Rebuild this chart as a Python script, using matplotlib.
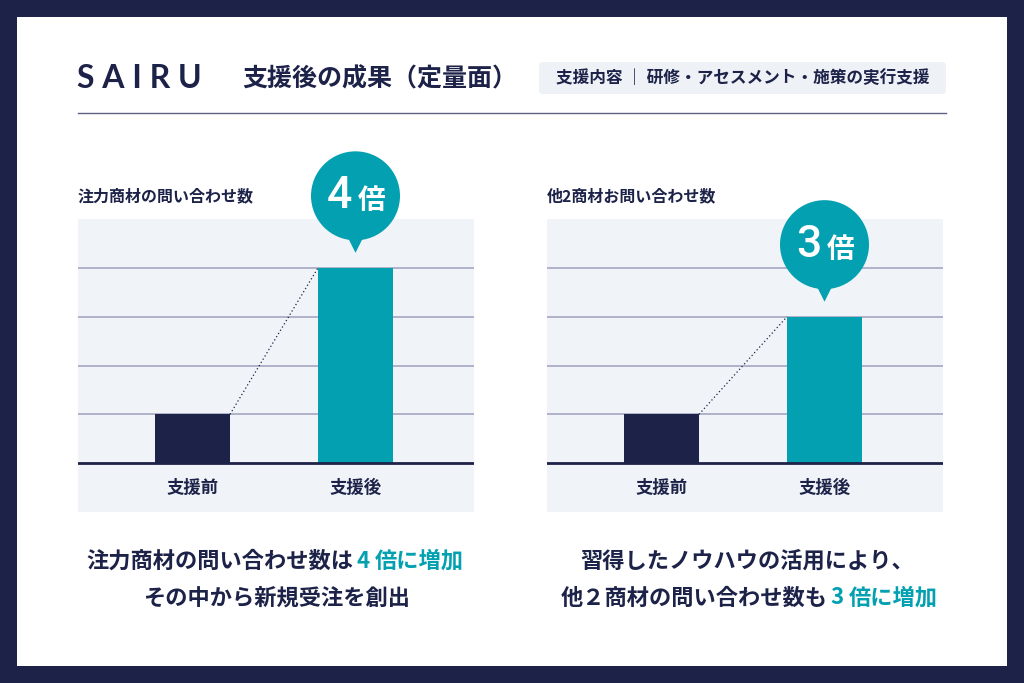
import matplotlib
matplotlib.use("Agg")
import matplotlib.pyplot as plt
import matplotlib.transforms as mtrans
from matplotlib.patches import Rectangle, FancyBboxPatch, Circle, Polygon
from matplotlib.lines import Line2D

plt.rcParams['font.family'] = ['Noto Sans CJK JP', 'DejaVu Sans']

# data
categories = ["支援前", "支援後"]
left_title = "注力商材の問い合わせ数"
left_values = [1, 4]
left_badge = ("4", "倍")
right_title = "他2商材お問い合わせ数"
right_values = [1, 3]
right_badge = ("3", "倍")

NAVY = "#1c2248"
TEAL = "#02a0b0"
BG = "#f0f3f7"
GRID = "#a4a7c2"

W, H = 1024, 683
fig = plt.figure(figsize=(10.24, 6.83), dpi=100, facecolor=NAVY)


def fx(x):
    return x / W


def fy(y):
    return 1 - y / H


# white panel inside the navy frame
fig.add_artist(Rectangle((fx(17), fy(666)), 990 / W, 649 / H, transform=fig.transFigure,
                         facecolor="white", edgecolor="none", zorder=0))

# header
fig.text(fx(77), fy(79), "S A I R U", fontfamily="Lato", fontsize=23, weight="bold",
         color=NAVY, va="center")
fig.text(fx(242), fy(79), "支援後の成果（定量面）", fontsize=18, weight="bold", color=NAVY, va="center")
fig.add_artist(FancyBboxPatch((fx(539), fy(94)), 407 / W, 32 / H, transform=fig.transFigure,
                              boxstyle="round,pad=0,rounding_size=0.004", mutation_aspect=W / H,
                              facecolor="#eef1f6", edgecolor="none", zorder=1))
fig.text(fx(742.5), fy(78), "支援内容 ｜ 研修・アセスメント・施策の実行支援", fontsize=12,
         weight="bold", color=NAVY, ha="center", va="center", zorder=2)
fig.add_artist(Line2D([fx(78), fx(946)], [fy(113), fy(113)], transform=fig.transFigure,
                      color="#5d6285", lw=1))


def chart(x0, title, values, badge):
    fig.text(fx(x0), fy(196), title, fontsize=11.5, weight="bold", color=NAVY, va="center")
    ax = fig.add_axes([fx(x0), fy(512), 396 / W, 293 / H])
    ax.set_facecolor(BG)
    for s in ax.spines.values():
        s.set_visible(False)
    ax.set_xticks([])
    ax.set_yticks([])
    for g in range(1, 5):
        ax.axhline(g, color=GRID, lw=1.2, zorder=1)
    w = 0.46
    ax.bar([0, 1], values, width=w, color=[NAVY, TEAL], zorder=2)
    ax.axhline(0, color=NAVY, lw=2, zorder=3)
    ax.plot([w / 2, 1 - w / 2], values, ls=(0, (1, 2)), color=NAVY, lw=0.9, zorder=3)
    for i, c in enumerate(categories):
        ax.text(i, -0.5, c, ha="center", va="center", fontsize=12.5, weight="bold", color=NAVY)
    ax.set_xlim(-0.7025, 1.727)
    ax.set_ylim(-1, 5)

    # speech bubble above the second bar
    trans = mtrans.Affine2D() + mtrans.ScaledTranslation(1, values[1], ax.transData)
    ax.add_artist(Circle((0, 72), 44.5, transform=trans, facecolor=TEAL, edgecolor="none",
                         zorder=5, clip_on=False))
    ax.add_artist(Polygon([(-9.5, 34), (9.5, 34), (0, 15)], closed=True, transform=trans,
                          facecolor=TEAL, edgecolor="none", zorder=5, clip_on=False))
    ax.text(-3, 60, badge[0], transform=trans, fontfamily="Roboto", fontsize=32, weight=500,
            color="white", ha="right", va="baseline", zorder=6)
    ax.text(2, 59, badge[1], transform=trans, fontsize=20, weight="bold",
            color="white", ha="left", va="baseline", zorder=6)
    return ax


chart(78, left_title, left_values, left_badge)
chart(547, right_title, right_values, right_badge)

renderer = fig.canvas.get_renderer()


def mixed(xc, y, parts, size=16):
    # parts: (text, colour, gap in pixels before the text)
    texts = [fig.text(0, fy(y), s, color=c, fontsize=size, weight="bold", va="center")
             for s, c, _ in parts]
    widths = [t.get_window_extent(renderer).width for t in texts]
    gaps = [g for _, _, g in parts]
    x = xc - (sum(widths) + sum(gaps)) / 2
    for t, wd, g in zip(texts, widths, gaps):
        x += g
        t.set_x(fx(x))
        x += wd


mixed(275, 561, [("注力商材の問い合わせ数は", NAVY, 0), ("4", TEAL, 3), ("倍に増加", TEAL, 5)])
mixed(277, 598, [("その中から新規受注を創出", NAVY, 0)])
mixed(747, 561, [("習得したノウハウの活用により、", NAVY, 0)])
mixed(749, 598, [("他２商材の問い合わせ数も", NAVY, 0), ("3", TEAL, 3), ("倍に増加", TEAL, 5)])

fig.savefig("out.png", dpi=100, facecolor=NAVY)
